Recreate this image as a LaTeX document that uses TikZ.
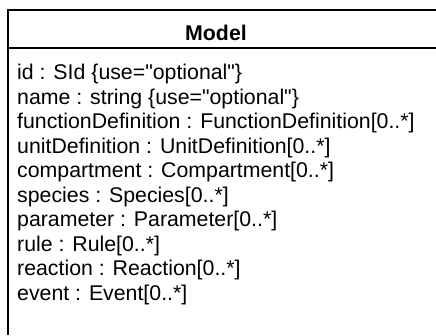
\documentclass[tikz,border=0pt]{standalone}
\usepackage{fontspec}
\setmainfont{Liberation Sans}
\usetikzlibrary{positioning}
\newcommand{\dq}{\textquotedbl}

\begin{document}
\begin{tikzpicture}
[x=1pt,y=1pt,
 classname/.style={font=\bfseries\fontsize{21.3}{24.5}\selectfont,inner sep=0pt},
 members/.style={align=left,anchor=north west,inner sep=0pt,
	font=\fontsize{21.3}{24.5}\selectfont},
 frame/.style={line width=1.6pt}]

\useasboundingbox (0,0) rectangle (436,-335);

\coordinate (tl) at (8,-10);
\coordinate (tr) at (436,-10);
\coordinate (bl) at (8,-335);
\coordinate (sl) at (8,-48);
\coordinate (sr) at (436,-48);

\draw [frame] (tr) -- (tl) -- (bl);
\draw [frame] (sl) -- (sr);

\node (model) [classname] at (216,-33) {Model};
\node (attrs) [members] at (17,-64) {id : SId \{use=\dq optional\dq\}\\
	name : string \{use=\dq optional\dq\}\\
	functionDefinition : FunctionDefinition[0..*]\\
	unitDefinition : UnitDefinition[0..*]\\
	compartment : Compartment[0..*]\\
	species : Species[0..*]\\
	parameter : Parameter[0..*]\\
	rule : Rule[0..*]\\
	reaction : Reaction[0..*]\\
	event : Event[0..*]};
\end{tikzpicture}
\end{document}
